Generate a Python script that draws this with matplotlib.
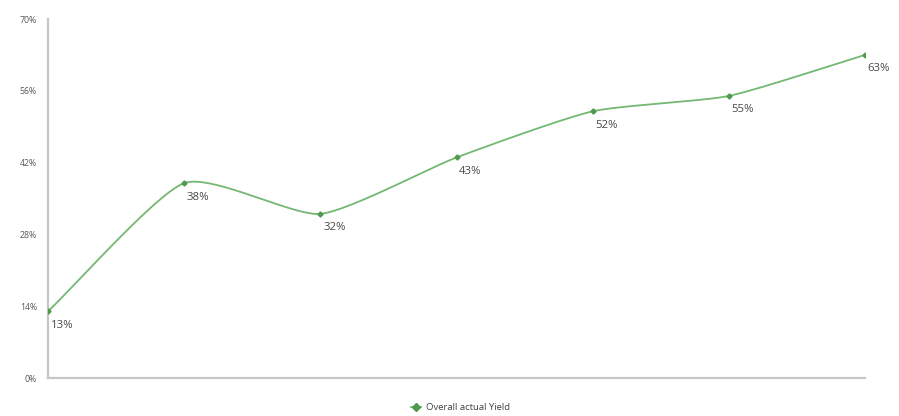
import numpy as np
import matplotlib
matplotlib.use("Agg")
import matplotlib.pyplot as plt
from matplotlib.lines import Line2D

plt.rcParams['font.family'] = ['Open Sans', 'DejaVu Sans']

# Data
periods = [1, 2, 3, 4, 5, 6, 7]
actual_yield = [13, 38, 32, 43, 52, 55, 63]
y_ticks = [0, 14, 28, 42, 56, 70]
series_name = "Overall actual Yield"

LINE_COLOR = "#73b873"
MARK_COLOR = "#4f9a4f"
AXIS_COLOR = "#c6c6c6"
TEXT_COLOR = "#595959"


def smooth_curve(x, y, n=40, tension=0.5):
    """Cardinal-spline smoothing that passes through every point."""
    x = np.asarray(x, float)
    y = np.asarray(y, float)
    k = len(x)
    mx = np.empty(k)
    my = np.empty(k)
    for i in range(k):
        a = max(i - 1, 0)
        b = min(i + 1, k - 1)
        scale = tension * (1.0 if (a == i or b == i) else 0.5)
        mx[i] = scale * (x[b] - x[a])
        my[i] = scale * (y[b] - y[a])
    xs, ys = [], []
    for i in range(k - 1):
        t = np.linspace(0, 1, n, endpoint=(i == k - 2))
        h00 = 2 * t**3 - 3 * t**2 + 1
        h10 = t**3 - 2 * t**2 + t
        h01 = -2 * t**3 + 3 * t**2
        h11 = t**3 - t**2
        xs.append(h00 * x[i] + h10 * mx[i] + h01 * x[i + 1] + h11 * mx[i + 1])
        ys.append(h00 * y[i] + h10 * my[i] + h01 * y[i + 1] + h11 * my[i + 1])
    return np.concatenate(xs), np.concatenate(ys)


fig = plt.figure(figsize=(8.99, 4.16), dpi=100)
ax = fig.add_axes([48 / 899, 1 - 378 / 416, (865 - 48) / 899, (378 - 19) / 416])

sx, sy = smooth_curve(periods, actual_yield, tension=0.6)
ax.plot(sx, sy, color=LINE_COLOR, lw=1.3, solid_capstyle='round', zorder=2)
ax.plot(periods, actual_yield, linestyle='none', marker='D', markersize=2.6,
        color=MARK_COLOR, zorder=3)

for xv, yv in zip(periods, actual_yield):
    ax.annotate(f"{yv}%", (xv, yv), xytext=(2, -10), textcoords='offset points',
                ha='left', va='center', fontsize=8.2, color='#4a4a4a')

ax.set_xlim(periods[0], periods[-1])
ax.set_ylim(0, 70)
ax.set_yticks(y_ticks)
ax.set_yticklabels([f"{v}%" for v in y_ticks], fontsize=6.3, color=TEXT_COLOR)
ax.set_xticks([])
ax.tick_params(axis='y', length=0, pad=8)

for side in ('top', 'right'):
    ax.spines[side].set_visible(False)
for side in ('left', 'bottom'):
    ax.spines[side].set_color(AXIS_COLOR)
    ax.spines[side].set_linewidth(1.6)

handle = Line2D([0], [0], color=LINE_COLOR, lw=1.3, marker='D', markersize=3.8,
                markerfacecolor=MARK_COLOR, markeredgecolor=MARK_COLOR)
fig.legend([handle], [series_name], loc='center', bbox_to_anchor=(461 / 899, 1 - 408 / 416),
           frameon=False, fontsize=6.8, handlelength=1.0, handletextpad=0.6,
           labelcolor='#404040')

fig.savefig("out.png", dpi=100)
